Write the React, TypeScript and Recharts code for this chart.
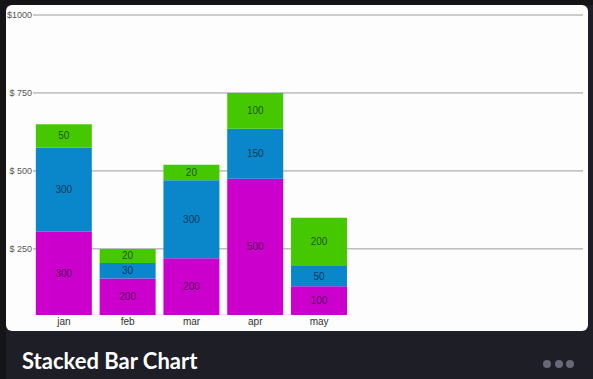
import { Bar, BarChart, CartesianGrid, LabelList, XAxis, YAxis } from "recharts";

const months = ["jan", "feb", "mar", "apr", "may"];
// segment heights as drawn
const pinkValues = [305, 155, 220, 475, 130];
const blueValues = [270, 50, 250, 160, 65];
const greenValues = [75, 45, 50, 115, 155];
// numbers printed inside the segments
const pinkLabels = ["300", "200", "200", "500", "100"];
const blueLabels = ["300", "30", "300", "150", "50"];
const greenLabels = ["50", "20", "20", "100", "200"];
const yTicks = [250, 500, 750, 1000];

const data = months.map((month, i) => ({
  month,
  pink: pinkValues[i],
  blue: blueValues[i],
  green: greenValues[i],
  pinkLabel: pinkLabels[i],
  blueLabel: blueLabels[i],
  greenLabel: greenLabels[i],
}));

const DOMAIN: [number, number] = [38, 1000];
const CHART_H = 340;
const FONT = "'Liberation Sans', Arial, sans-serif";

const dollar = (v: number) => (v >= 1000 ? `$${v}` : `$ ${v}`);

const labelStyle = { fill: "rgba(0,0,0,0.62)", fontSize: 10, fontFamily: FONT };

function YTick(props: any) {
  const { x, y, payload } = props;
  return (
    <text x={x} y={y} dy={3} textAnchor="end" fontSize={9} fill="#555" fontFamily={FONT}>
      {dollar(payload.value)}
    </text>
  );
}

export default function App() {
  return (
    <div
      style={{
        position: "fixed",
        left: 0,
        top: 0,
        width: 593,
        height: 379,
        background: "#1e1e27",
        overflow: "hidden",
      }}
    >
      <div style={{ position: "absolute", left: 0, top: 0, width: 593, height: 5, background: "#141417" }} />
      <div style={{ position: "absolute", left: 0, top: 0, width: 6, height: 379, background: "#151518" }} />
      <div
        style={{
          position: "absolute",
          left: 6,
          top: 5,
          width: 582,
          height: 326,
          background: "#fdfdfe",
          borderRadius: 6,
        }}
      />

      {/* grid + y axis across the whole panel */}
      <div style={{ position: "absolute", left: 0, top: 0 }}>
        <BarChart width={593} height={CHART_H} data={data} margin={{ top: 15, right: 10, bottom: 25, left: 0 }}>
          <CartesianGrid vertical={false} horizontalValues={yTicks} stroke="#9a9a9a" strokeWidth={1} />
          <XAxis dataKey="month" hide />
          <YAxis
            width={36}
            domain={DOMAIN}
            allowDataOverflow
            ticks={yTicks}
            axisLine={false}
            tickSize={3}
            tickMargin={1}
            tickLine={{ stroke: "#9a9a9a" }}
            tick={<YTick />}
          />
        </BarChart>
      </div>

      {/* stacked bars */}
      <div style={{ position: "absolute", left: 0, top: 0 }}>
        <BarChart
          width={351}
          height={CHART_H}
          data={data}
          barCategoryGap="6%"
          margin={{ top: 15, right: 0, bottom: 0, left: 32 }}
        >
          <XAxis
            dataKey="month"
            height={25}
            axisLine={false}
            tickLine={false}
            tickSize={0}
            tickMargin={3}
            tick={{ fontSize: 10, fill: "#333", fontFamily: FONT }}
          />
          <YAxis hide domain={DOMAIN} allowDataOverflow />
          <Bar dataKey="pink" stackId="a" fill="#cc00cc" isAnimationActive={false}>
            <LabelList dataKey="pinkLabel" position="center" style={labelStyle} />
          </Bar>
          <Bar dataKey="blue" stackId="a" fill="#0a86ca" isAnimationActive={false}>
            <LabelList dataKey="blueLabel" position="center" style={labelStyle} />
          </Bar>
          <Bar dataKey="green" stackId="a" fill="#46c800" isAnimationActive={false}>
            <LabelList dataKey="greenLabel" position="center" style={labelStyle} />
          </Bar>
        </BarChart>
      </div>

      <div
        style={{
          position: "absolute",
          left: 22,
          top: 346,
          color: "#ffffff",
          fontFamily: "Lato, 'Open Sans', sans-serif",
          fontWeight: 700,
          fontSize: 22,
          lineHeight: "30px",
          whiteSpace: "nowrap",
        }}
      >
        Stacked Bar Chart
      </div>
      <div style={{ position: "absolute", left: 543, top: 360, display: "flex", gap: 3.5 }}>
        {[0, 1, 2].map((i) => (
          <div key={i} style={{ width: 8, height: 8, borderRadius: 4, background: "#686878" }} />
        ))}
      </div>
    </div>
  );
}
